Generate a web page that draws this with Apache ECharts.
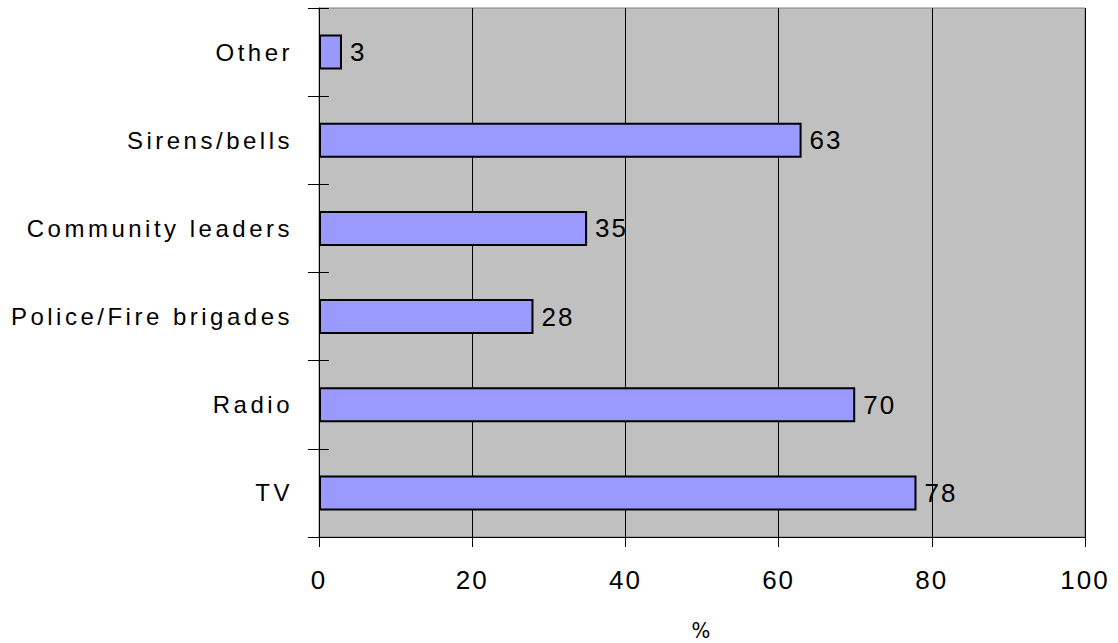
<!DOCTYPE html>
<html>
<head>
<meta charset="utf-8">
<title>Warning sources</title>
<script src="https://cdn.jsdelivr.net/npm/echarts@6/dist/echarts.min.js"></script>
<style>
  html, body { margin: 0; padding: 0; background: #ffffff; }
  #chart { width: 1118px; height: 643px; }
  /* wide tracking for the category names, lighter tracking for the numbers */
  #chart text[text-anchor="end"] { letter-spacing: 3.5px; }
  #chart text[text-anchor="start"],
  #chart text[text-anchor="middle"] { letter-spacing: 2px; }
</style>
</head>
<body>
<div id="chart"></div>
<script>
// Categories listed bottom to top, as the category axis draws them
const categories = ['TV', 'Radio', 'Police/Fire brigades', 'Community leaders', 'Sirens/bells', 'Other'];
const values = [78, 70, 28, 35, 63, 3];
const xTicks = [0, 20, 40, 60, 80, 100];

const chart = echarts.init(document.getElementById('chart'), null, { renderer: 'svg' });

const font = 'Liberation Sans, Arial, sans-serif';

chart.setOption({
  animation: false,
  backgroundColor: '#ffffff',
  grid: {
    left: 319, right: 33, top: 8, bottom: 106,
    containLabel: false,
    outerBoundsMode: 'none',
    show: true,
    backgroundColor: '#c0c0c0',
    borderColor: '#808080',
    borderWidth: 1
  },
  xAxis: {
    type: 'value',
    min: xTicks[0],
    max: xTicks[xTicks.length - 1],
    interval: 20,
    name: '%',
    nameLocation: 'middle',
    nameGap: 82,
    nameTextStyle: { fontFamily: 'DejaVu Sans Condensed, sans-serif', fontSize: 22, color: '#000' },
    axisLine: { show: true, lineStyle: { color: '#000', width: 1 } },
    axisTick: { show: true, length: 10, lineStyle: { color: '#000' } },
    axisLabel: { color: '#000', fontSize: 26, fontFamily: font, margin: 30 },
    splitLine: { show: true, lineStyle: { color: '#000', width: 1 } }
  },
  yAxis: [
    {
      type: 'category',
      data: categories,
      axisLine: { show: true, lineStyle: { color: '#000', width: 1 } },
      axisTick: { show: true, length: 11, lineStyle: { color: '#000' } },
      axisLabel: { color: '#000', fontSize: 24, fontFamily: font, margin: 26 },
      splitLine: { show: false }
    },
    {
      // inner half of the crossing tick marks
      type: 'category',
      data: categories,
      position: 'left',
      axisLine: { show: false },
      axisTick: { show: true, inside: true, length: 10, lineStyle: { color: '#000' } },
      axisLabel: { show: false },
      splitLine: { show: false }
    }
  ],
  series: [{
    type: 'bar',
    data: values,
    yAxisIndex: 0,
    barWidth: 35,
    itemStyle: { color: '#9999ff', borderColor: '#000', borderWidth: 2 },
    label: {
      show: true,
      position: 'right',
      distance: 8,
      color: '#000',
      fontSize: 26,
      fontFamily: font
    }
  }]
});
</script>
</body>
</html>
